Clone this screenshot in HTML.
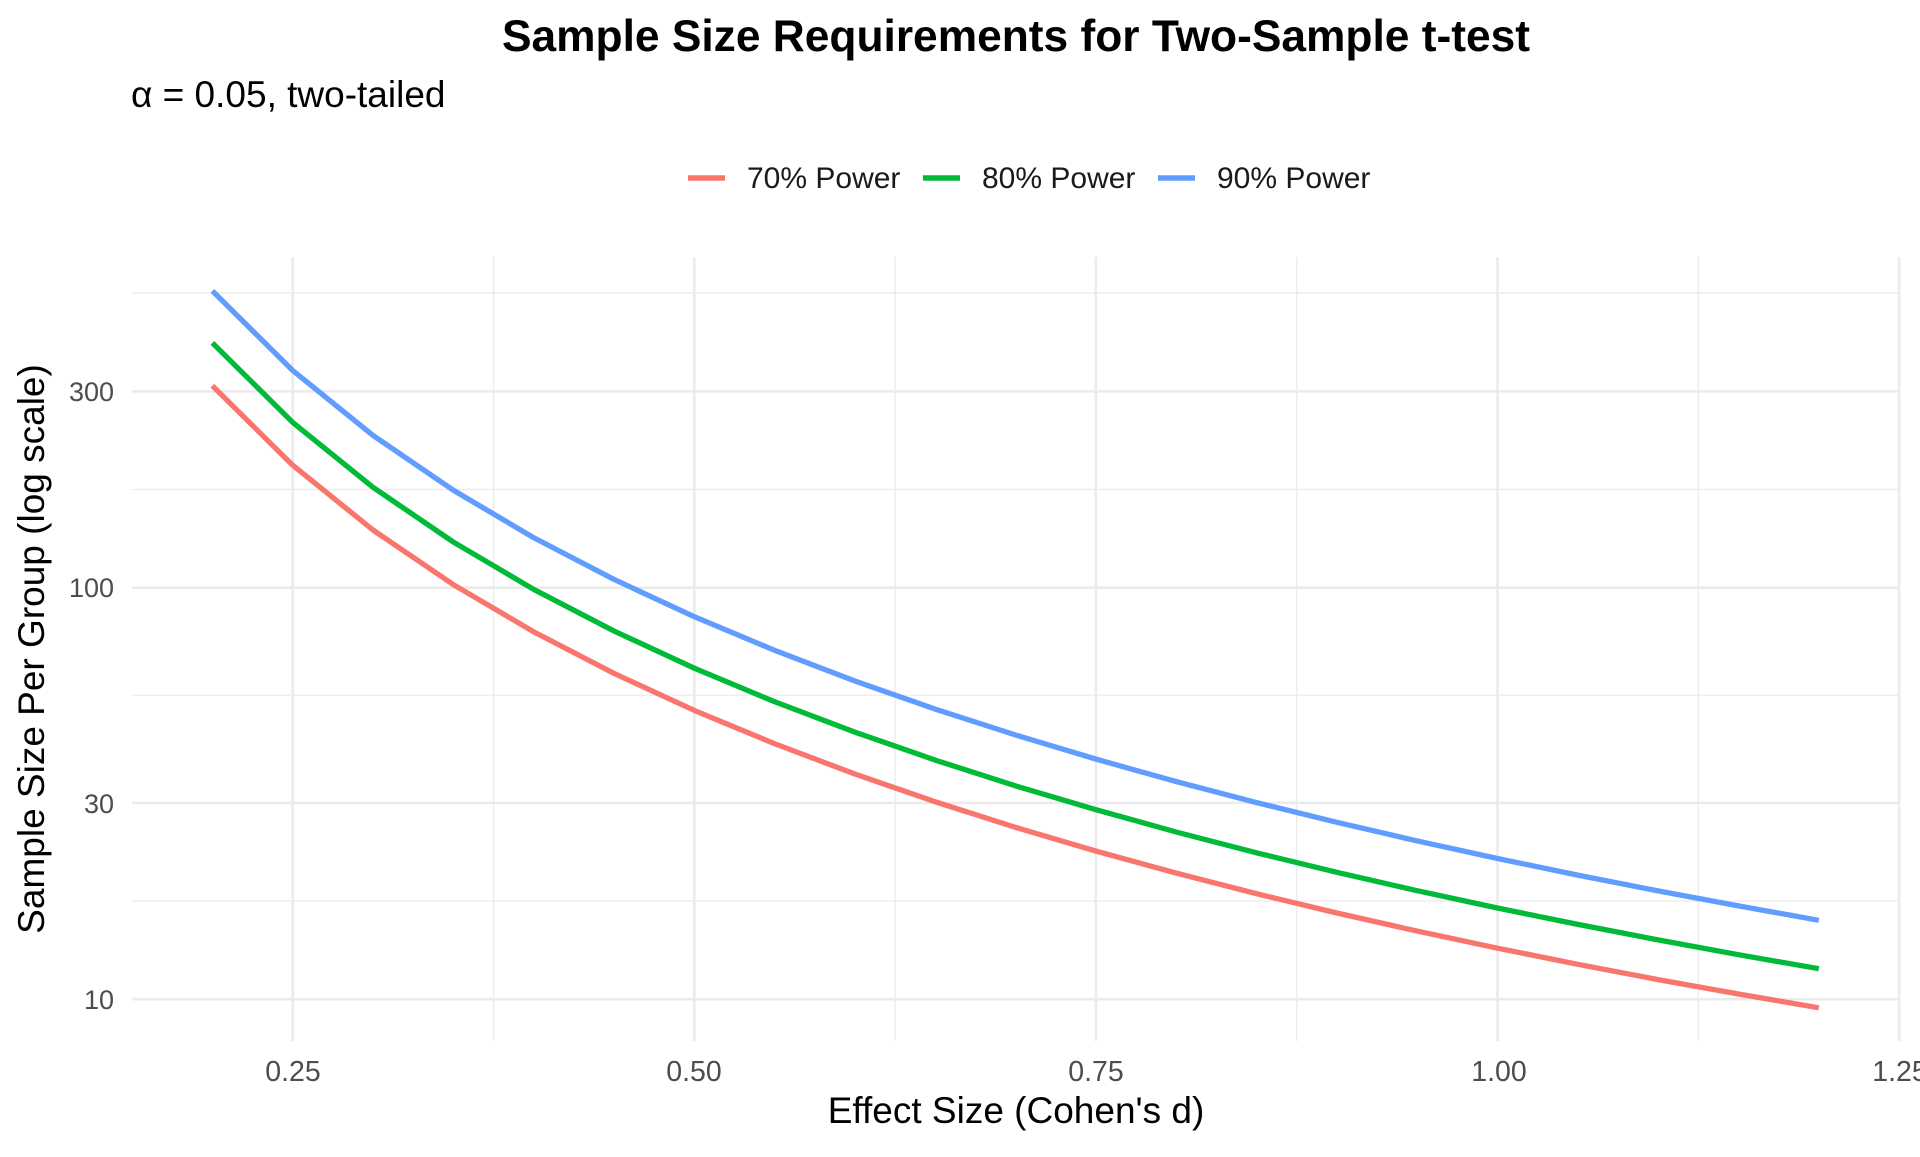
<!DOCTYPE html>
<html><head><meta charset="utf-8"><style>
html,body{margin:0;padding:0;background:#fff;}
svg text{font-family:"Liberation Sans",Arial,sans-serif;}
</style></head><body>
<svg id="s" width="1920" height="1152" viewBox="0 0 1920 1152" xmlns="http://www.w3.org/2000/svg">
<rect width="1920" height="1152" fill="#fff"/>
<g id="grid"></g>
<g id="lines"></g>
<text x="1016" y="51" text-anchor="middle" font-size="44.3" font-weight="bold" fill="#000">Sample Size Requirements for Two-Sample t-test</text>
<text x="131" y="107" font-size="37" fill="#000">α = 0.05, two-tailed</text>
<line x1="688" y1="178" x2="725" y2="178" stroke="#F8766D" stroke-width="5.5"/>
<text x="747" y="188" font-size="30" fill="#1a1a1a">70% Power</text>
<line x1="923" y1="178" x2="960" y2="178" stroke="#00BA38" stroke-width="5.5"/>
<text x="982" y="188" font-size="30" fill="#1a1a1a">80% Power</text>
<line x1="1158" y1="178" x2="1195" y2="178" stroke="#619CFF" stroke-width="5.5"/>
<text x="1217" y="188" font-size="30" fill="#1a1a1a">90% Power</text>
<g font-size="27" fill="#4d4d4d" text-anchor="end">
<text x="114" y="1009">10</text>
<text x="114" y="813">30</text>
<text x="114" y="597">100</text>
<text x="114" y="401">300</text>
</g>
<g font-size="28.5" fill="#4d4d4d" text-anchor="middle">
<text x="293" y="1081">0.25</text>
<text x="694" y="1081">0.50</text>
<text x="1096" y="1081">0.75</text>
<text x="1499" y="1081">1.00</text>
<text x="1900" y="1081">1.25</text>
</g>
<text x="1016" y="1123" text-anchor="middle" font-size="37" fill="#000">Effect Size (Cohen's d)</text>
<text transform="translate(44,649) rotate(-90)" text-anchor="middle" font-size="37" fill="#000">Sample Size Per Group (log scale)</text>
</svg>
<script>
var NS="http://www.w3.org/2000/svg";
function X(d){return 292.7+(d-0.25)*1606.4;}
function Y(n){return 999.2-(Math.log10(n)-1)*411.5;}
var g=document.getElementById('grid');
function ln(x1,y1,x2,y2,w){var l=document.createElementNS(NS,'line');l.setAttribute('x1',x1);l.setAttribute('y1',y1);l.setAttribute('x2',x2);l.setAttribute('y2',y2);l.setAttribute('stroke','#ebebeb');l.setAttribute('stroke-width',w);g.appendChild(l);}
var T=257,B=1041,L=132,R=1900;
[0.375,0.625,0.875,1.125].forEach(function(d){ln(X(d),T,X(d),B,1.3);});
[Math.sqrt(300),Math.sqrt(3000),Math.sqrt(30000),Math.pow(10,2.716)].forEach(function(n){ln(L,Y(n),R,Y(n),1.3);});
[0.25,0.5,0.75,1.0,1.25].forEach(function(d){ln(X(d),T,X(d),B,2.6);});
[10,30,100,300].forEach(function(n){ln(L,Y(n),R,Y(n),2.6);});
var lg=document.getElementById('lines');
[[0.5244,'#F8766D'],[0.8416,'#00BA38'],[1.2816,'#619CFF']].forEach(function(p){
 var pts=[];for(var i=0;i<=20;i++){var d=0.2+i*0.05;var n=2*Math.pow(1.96+p[0],2)/(d*d)+0.96;pts.push(X(d).toFixed(1)+','+Y(n).toFixed(1));}
 var pl=document.createElementNS(NS,'polyline');pl.setAttribute('points',pts.join(' '));pl.setAttribute('fill','none');pl.setAttribute('stroke',p[1]);pl.setAttribute('stroke-width','5.3');pl.setAttribute('stroke-linejoin','round');lg.appendChild(pl);
});
</script>
</body></html>
